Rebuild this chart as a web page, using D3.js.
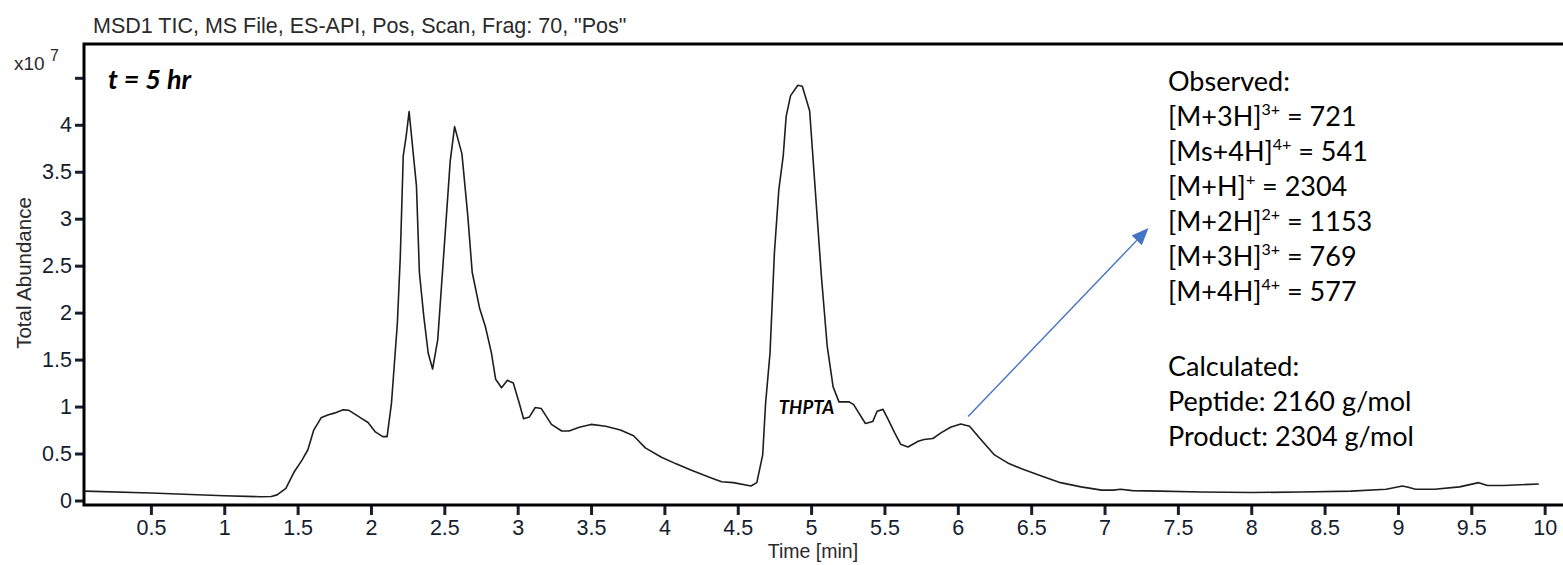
<!DOCTYPE html>
<html>
<head>
<meta charset="utf-8">
<script src="https://cdn.jsdelivr.net/npm/d3@7"></script>
<style>
  body { margin: 0; background: #fff; }
  svg { display: block; }
</style>
</head>
<body>
<div id="chart"></div>
<script>
// TIC trace (time in min, abundance in units of 1e7)
var times = [0.05, 0.50, 0.77, 1.00, 1.25, 1.32, 1.36, 1.42, 1.475, 1.53, 1.57, 1.61, 1.66, 1.705, 1.75, 1.81, 1.85, 1.93, 1.98, 2.03, 2.08, 2.11,
  2.14, 2.18, 2.20, 2.22, 2.24, 2.26, 2.31, 2.33, 2.36, 2.39, 2.42, 2.455, 2.495, 2.54, 2.57, 2.62, 2.66, 2.69, 2.74, 2.78, 2.82, 2.85,
  2.89, 2.93, 2.97, 3.01, 3.04, 3.08, 3.12, 3.16, 3.23, 3.30, 3.35, 3.42, 3.50, 3.60, 3.70, 3.79, 3.87, 3.98, 4.08, 4.18, 4.32, 4.39,
  4.47, 4.59, 4.63, 4.67, 4.69, 4.72, 4.75, 4.78, 4.81, 4.83, 4.86, 4.91, 4.94, 4.99, 5.02, 5.07, 5.11, 5.15, 5.19, 5.22, 5.26, 5.29,
  5.37, 5.42, 5.45, 5.49, 5.52, 5.57, 5.61, 5.66, 5.73, 5.77, 5.83, 5.885, 5.95, 6.02, 6.08, 6.16, 6.25, 6.34, 6.43, 6.57, 6.70, 6.84,
  6.98, 7.06, 7.11, 7.19, 7.38, 7.66, 8.00, 8.34, 8.68, 8.92, 9.03, 9.07, 9.12, 9.25, 9.42, 9.55, 9.61, 9.72, 9.96];
var abundance = [0.10, 0.08, 0.064, 0.05, 0.04, 0.043, 0.06, 0.13, 0.30, 0.43, 0.54, 0.75, 0.88, 0.91, 0.93, 0.965, 0.96, 0.88, 0.83, 0.73, 0.68, 0.68,
  1.04, 1.89, 2.60, 3.67, 3.88, 4.14, 3.35, 2.43, 1.96, 1.57, 1.40, 1.71, 2.60, 3.61, 3.98, 3.69, 3.03, 2.43, 2.05, 1.85, 1.58, 1.29,
  1.20, 1.28, 1.25, 1.04, 0.87, 0.89, 0.99, 0.98, 0.81, 0.74, 0.74, 0.78, 0.81, 0.79, 0.75, 0.69, 0.56, 0.46, 0.39, 0.325, 0.24, 0.20,
  0.19, 0.155, 0.19, 0.485, 1.04, 1.57, 2.64, 3.31, 3.67, 4.09, 4.31, 4.42, 4.41, 4.15, 3.49, 2.39, 1.64, 1.21, 1.05, 1.05, 1.05, 1.02,
  0.82, 0.84, 0.95, 0.97, 0.88, 0.72, 0.60, 0.57, 0.63, 0.65, 0.66, 0.72, 0.78, 0.815, 0.79, 0.645, 0.485, 0.40, 0.34, 0.26, 0.19, 0.145,
  0.11, 0.11, 0.12, 0.105, 0.10, 0.09, 0.085, 0.09, 0.10, 0.12, 0.155, 0.14, 0.12, 0.12, 0.145, 0.19, 0.16, 0.16, 0.175];

var xTicks = d3.range(0.5, 10.01, 0.5);
var yTicks = d3.range(0, 4.51, 0.5);
var yLabelled = [0, 0.5, 1, 1.5, 2, 2.5, 3, 3.5, 4];

var observedIons = ["[M+3H]", "[Ms+4H]", "[M+H]", "[M+2H]", "[M+3H]", "[M+4H]"];
var observedCharges = ["3+", "4+", "+", "2+", "3+", "4+"];
var observedMz = [721, 541, 2304, 1153, 769, 577];
var calculatedLines = ["Peptide: 2160 g/mol", "Product: 2304 g/mol"];

// arrow from the small peak near 6 min to the annotation block
var arrowFrom = [6.07, 0.894], arrowTo = [7.30, 2.90];

var width = 1563, height = 565;
var svg = d3.select("#chart").append("svg").attr("width", width).attr("height", height);

var x = d3.scaleLinear().domain([0.044, 10.125]).range([84, 1563]);
var y = d3.scaleLinear().domain([-0.048, 4.86]).range([505, 44]);

var axisFont = "'Liberation Sans', Arial, sans-serif";
var tickColor = "#14202e";

// title
svg.append("text").attr("x", 93).attr("y", 33)
  .style("font-family", axisFont).style("font-size", "21.5px").attr("fill", "#2a2a2a")
  .text('MSD1 TIC, MS File, ES-API, Pos, Scan, Frag: 70, "Pos"');

// x10^7
var mult = svg.append("text").attr("x", 14).attr("y", 70)
  .style("font-family", axisFont).style("font-size", "19px").attr("fill", "#2a2a2a");
mult.append("tspan").text("x10 ");
mult.append("tspan").attr("dy", -9).style("font-size", "16px").text("7");

// axes
var bAxis = d3.axisBottom(x).tickValues(xTicks).tickSize(10).tickSizeOuter(0).tickPadding(5)
  .tickFormat(function(d) { return d3.format("~g")(d); });
var gx = svg.append("g").attr("transform", "translate(0,505)").call(bAxis);

var lAxis = d3.axisLeft(y).tickValues(yTicks).tickSize(9).tickSizeOuter(0).tickPadding(3)
  .tickFormat(function(d) { return yLabelled.indexOf(d) >= 0 ? d3.format("~g")(d) : ""; });
var gy = svg.append("g").attr("transform", "translate(84,0)").call(lAxis);

[gx, gy].forEach(function(g) {
  g.select(".domain").remove();
  g.attr("font-size", null);
  g.selectAll(".tick line").attr("stroke", tickColor).attr("stroke-width", 3);
  g.selectAll(".tick text").style("font-family", axisFont).style("font-size", "21.5px").attr("fill", tickColor);
});

// frame: top, left and bottom lines
svg.append("path")
  .attr("d", "M" + x.range()[1] + "," + y.range()[1] + "H" + x.range()[0] + "V" + y.range()[0] + "H" + x.range()[1])
  .attr("fill", "none").attr("stroke", "#000").attr("stroke-width", 3);

// axis titles
svg.append("text").attr("transform", "translate(31,273) rotate(-90)").attr("text-anchor", "middle")
  .style("font-family", axisFont).style("font-size", "20.5px").attr("fill", "#2a2a2a")
  .text("Total Abundance");
svg.append("text").attr("x", 813).attr("y", 558).attr("text-anchor", "middle")
  .style("font-family", axisFont).style("font-size", "19.5px").attr("fill", "#2a2a2a")
  .text("Time [min]");

// trace
var data = times.map(function(t, i) { return [t, abundance[i]]; });
var line = d3.line().x(function(d) { return x(d[0]); }).y(function(d) { return y(d[1]); });
svg.append("path").datum(data).attr("d", line)
  .attr("fill", "none").attr("stroke", "#1e1e1e").attr("stroke-width", 1.6).attr("stroke-linejoin", "round");

var noteFont = "Lato, 'Open Sans', sans-serif";

svg.append("text").attr("x", 108).attr("y", 89)
  .style("font-family", noteFont).style("font-size", "27px").style("font-weight", "bold").style("font-style", "italic")
  .text("t = 5 hr");

svg.append("text").attr("x", x(4.78)).attr("y", 414)
  .style("font-family", noteFont).style("font-size", "18.5px").style("font-weight", "bold").style("font-style", "italic")
  .text("THPTA");

// arrow
var ax0 = x(arrowFrom[0]), ay0 = y(arrowFrom[1]), ax1 = x(arrowTo[0]), ay1 = y(arrowTo[1]);
var ang = Math.atan2(ay1 - ay0, ax1 - ax0), hl = 17, hw = 7;
var bx = ax1 - hl * Math.cos(ang), by = ay1 - hl * Math.sin(ang);
svg.append("line").attr("x1", ax0).attr("y1", ay0).attr("x2", bx).attr("y2", by)
  .attr("stroke", "#4472c4").attr("stroke-width", 1.4);
svg.append("polygon")
  .attr("points", [[ax1, ay1],
    [bx + hw * Math.sin(ang), by - hw * Math.cos(ang)],
    [bx - hw * Math.sin(ang), by + hw * Math.cos(ang)]].map(function(p) { return p.join(","); }).join(" "))
  .attr("fill", "#4472c4");

// annotation block
var note = svg.append("g").style("font-family", noteFont).style("font-size", "27px").attr("fill", "#000");
note.append("text").attr("x", 1168).attr("y", 91).text("Observed:");
observedIons.forEach(function(ion, i) {
  var t = note.append("text").attr("x", 1168).attr("y", 126 + i * 35);
  t.append("tspan").text(ion);
  t.append("tspan").attr("dy", -11).style("font-size", "16px").text(observedCharges[i]);
  t.append("tspan").attr("dy", 11).text(" = " + observedMz[i]);
});
note.append("text").attr("x", 1168).attr("y", 376).text("Calculated:");
calculatedLines.forEach(function(s, i) {
  note.append("text").attr("x", 1168).attr("y", 411 + i * 35).text(s);
});
</script>
</body>
</html>
